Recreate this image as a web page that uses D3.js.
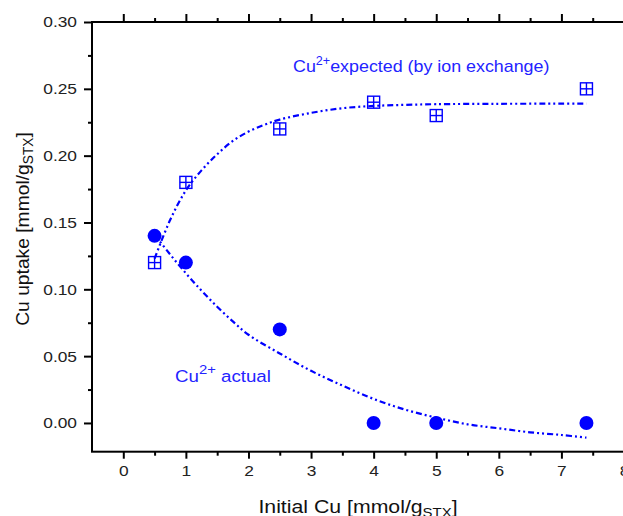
<!DOCTYPE html>
<html>
<head>
<meta charset="utf-8">
<script src="https://cdn.jsdelivr.net/npm/d3@7"></script>
<style>
  html, body { margin: 0; padding: 0; background: #fff; }
  svg { display: block; font-family: "Liberation Sans", Arial, sans-serif; }
</style>
</head>
<body>
<svg id="chart" width="623" height="516"></svg>
<script>
// Measured uptake of Cu2+ versus initial Cu loading
const initialCu = [0.5, 1, 2.5, 4, 5, 7.4];
const expectedUptake = [0.12, 0.18, 0.22, 0.24, 0.23, 0.25];
const actualUptake = [0.14, 0.12, 0.07, 0.00, 0.00, 0.00];

// Fitted trend lines (x, y)
const expectedFitX = [0.5, 0.75, 1.0, 1.25, 1.5, 1.75, 2.0, 2.25, 2.5, 3.0, 3.5, 4.0, 4.5, 5.0, 6.0, 7.0, 7.4];
const expectedFitY = [0.123, 0.152, 0.174, 0.189, 0.201, 0.211, 0.218, 0.223, 0.227, 0.232, 0.2355, 0.2372, 0.238, 0.2385, 0.2388, 0.2389, 0.239];
const actualFitX = [0.5, 0.75, 1.0, 1.25, 1.5, 1.75, 2.0, 2.5, 3.0, 3.5, 4.0, 4.5, 5.0, 5.5, 6.0, 6.5, 7.0, 7.4];
const actualFitY = [0.141, 0.126, 0.112, 0.099, 0.087, 0.076, 0.066, 0.052, 0.039, 0.028, 0.018, 0.010, 0.004, -0.001, -0.004, -0.007, -0.009, -0.011];

// Axis ticks
const xMajorTicks = [0, 1, 2, 3, 4, 5, 6, 7, 8];
const xMinorTicks = [0.5, 1.5, 2.5, 3.5, 4.5, 5.5, 6.5, 7.5];
const yMajorTicks = [0.00, 0.05, 0.10, 0.15, 0.20, 0.25, 0.30];
const yMinorTicks = [0.025, 0.075, 0.125, 0.175, 0.225, 0.275];

const blue = "#0000ff";
const textBlue = "#2323ff";

const svg = d3.select("#chart");

const x = d3.scaleLinear().domain([-0.5, 8]).range([92, 624]);
const y = d3.scaleLinear().domain([-0.0215, 0.30]).range([451.7, 22]);

const plotLeft = x.range()[0], plotRight = x.range()[1];
const plotTop = y.range()[1], plotBottom = y.range()[0];

// ---- axes ----
function styleAxis(g) {
  g.select(".domain").remove();
  g.selectAll(".tick line").attr("stroke", "#000").attr("stroke-width", 2);
  g.selectAll(".tick text")
    .attr("fill", "#222")
    .attr("font-size", 15.5)
    .attr("font-family", "'Liberation Sans', Arial, sans-serif");
}

// bottom
svg.append("g").attr("transform", `translate(0,${plotBottom})`)
  .call(d3.axisBottom(x).tickValues(xMajorTicks).tickSize(7).tickPadding(6).tickFormat(d3.format("d")))
  .call(styleAxis)
  .call(g => g.selectAll(".tick text").attr("transform", "scale(1.12,1)"));
svg.append("g").attr("transform", `translate(0,${plotBottom})`)
  .call(d3.axisBottom(x).tickValues(xMinorTicks).tickSize(4).tickFormat(""))
  .call(styleAxis);

// top
svg.append("g").attr("transform", `translate(0,${plotTop})`)
  .call(d3.axisTop(x).tickValues(xMajorTicks).tickSize(8).tickFormat(""))
  .call(styleAxis);
svg.append("g").attr("transform", `translate(0,${plotTop})`)
  .call(d3.axisTop(x).tickValues(xMinorTicks).tickSize(4).tickFormat(""))
  .call(styleAxis);

// left
svg.append("g").attr("transform", `translate(${plotLeft},0)`)
  .call(d3.axisLeft(y).tickValues(yMajorTicks).tickSize(8).tickPadding(7).tickFormat(d3.format(".2f")))
  .call(styleAxis)
  .call(g => g.selectAll(".tick text").attr("transform", "scale(1.12,1)").attr("x", -15 / 1.12));
svg.append("g").attr("transform", `translate(${plotLeft},0)`)
  .call(d3.axisLeft(y).tickValues(yMinorTicks).tickSize(4).tickFormat(""))
  .call(styleAxis);

// frame
svg.append("rect")
  .attr("x", plotLeft).attr("y", plotTop)
  .attr("width", plotRight - plotLeft).attr("height", plotBottom - plotTop)
  .attr("fill", "none").attr("stroke", "#000").attr("stroke-width", 2);

// ---- fit lines ----
const line = d3.line()
  .x(d => x(d[0])).y(d => y(d[1]))
  .curve(d3.curveCatmullRom.alpha(0.5));

const dash = "6,3,2,3,2,3";
svg.append("path")
  .datum(expectedFitX.map((v, i) => [v, expectedFitY[i]]))
  .attr("d", line)
  .attr("fill", "none").attr("stroke", blue).attr("stroke-width", 2.2)
  .attr("stroke-dasharray", dash);
svg.append("path")
  .datum(actualFitX.map((v, i) => [v, actualFitY[i]]))
  .attr("d", line)
  .attr("fill", "none").attr("stroke", blue).attr("stroke-width", 2.2)
  .attr("stroke-dasharray", dash);

// ---- markers ----
const half = 6;
const sq = svg.append("g").selectAll("g")
  .data(initialCu.map((v, i) => [v, expectedUptake[i]]))
  .join("g")
  .attr("transform", d => `translate(${x(d[0])},${y(d[1])})`)
  .attr("stroke", blue).attr("stroke-width", 1.4).attr("fill", "none");
sq.append("rect").attr("x", -half).attr("y", -half).attr("width", 2 * half).attr("height", 2 * half);
sq.append("line").attr("x1", -half).attr("x2", half).attr("y1", 0).attr("y2", 0);
sq.append("line").attr("y1", -half).attr("y2", half).attr("x1", 0).attr("x2", 0);

svg.append("g").selectAll("circle")
  .data(initialCu.map((v, i) => [v, actualUptake[i]]))
  .join("circle")
  .attr("cx", d => x(d[0])).attr("cy", d => y(d[1]))
  .attr("r", 7).attr("fill", blue);

// ---- annotations ----
const ann1 = svg.append("text")
  .attr("transform", "translate(293,72) scale(1.05,1)")
  .attr("fill", textBlue).attr("font-size", 17);
ann1.append("tspan").text("Cu");
ann1.append("tspan").attr("font-size", 12).attr("dy", -7).text("2+");
ann1.append("tspan").attr("dy", 7).text("expected (by ion exchange)");

const ann2 = svg.append("text")
  .attr("transform", "translate(175,382) scale(1.1,1)")
  .attr("fill", textBlue).attr("font-size", 17);
ann2.append("tspan").text("Cu");
ann2.append("tspan").attr("font-size", 13.5).attr("dy", -8).text("2+");
ann2.append("tspan").attr("dy", 8).text(" actual");

// ---- axis titles ----
const xt = svg.append("text")
  .attr("transform", "translate(358,513) scale(1.15,1)")
  .attr("text-anchor", "middle").attr("fill", "#111").attr("font-size", 18.5);
xt.append("tspan").text("Initial Cu [mmol/g");
xt.append("tspan").attr("font-size", 13).attr("dy", 4).text("STX");
xt.append("tspan").attr("dy", -4).text("]");

const yt = svg.append("text")
  .attr("transform", "translate(29,229) rotate(-90) scale(1.1,1.1)")
  .attr("text-anchor", "middle").attr("fill", "#111").attr("font-size", 17.5);
yt.append("tspan").text("Cu uptake [mmol/g");
yt.append("tspan").attr("font-size", 12.5).attr("dy", 4).text("STX");
yt.append("tspan").attr("dy", -4).text("]");
</script>
</body>
</html>
